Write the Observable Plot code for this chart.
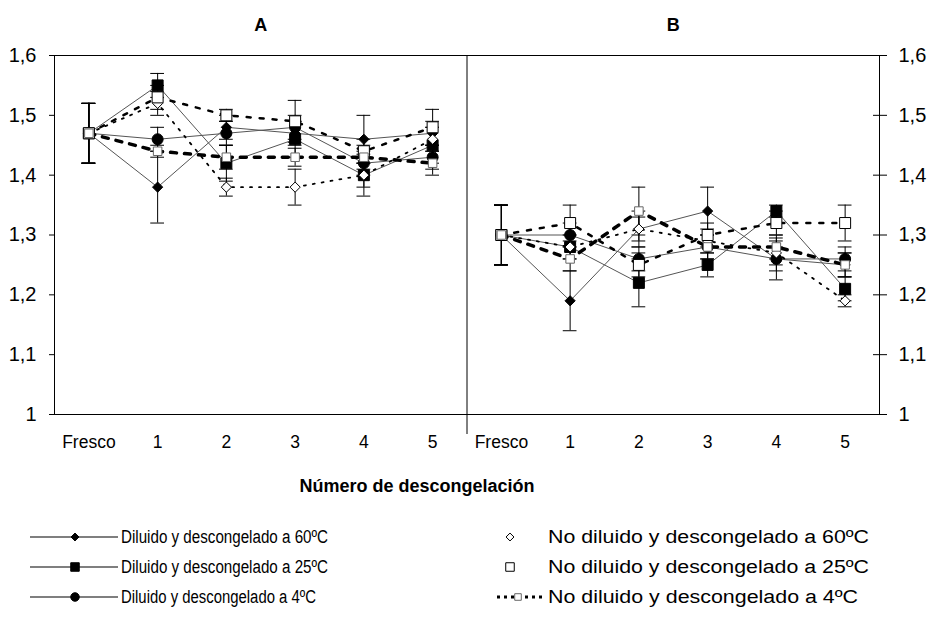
<!DOCTYPE html>
<html><head><meta charset="utf-8">
<script src="https://cdn.jsdelivr.net/npm/d3@7"></script>
<script src="https://cdn.jsdelivr.net/npm/@observablehq/plot@0.6"></script>
<style>
body{margin:0;background:#fff;font-family:"Liberation Sans",Arial,sans-serif;}
#legend text{font-family:"Liberation Sans",Arial,sans-serif;}
</style>
</head><body><div id="chart"></div><div id="legend"></div>
<script>
// ---- data ----
const panels = ["A", "B"];
const xLabels = ["Fresco", "1", "2", "3", "4", "5"];
const yTicks = [1, 1.1, 1.2, 1.3, 1.4, 1.5, 1.6];
const seriesKeys = ["D60", "D25", "D4", "ND60", "ND25", "ND4"];
const seriesNames = [
  "Diluido y descongelado a 60ºC",
  "Diluido y descongelado a 25ºC",
  "Diluido y descongelado a 4ºC",
  "No diluido y descongelado a 60ºC",
  "No diluido y descongelado a 25ºC",
  "No diluido y descongelado a 4ºC"
];
const xTitle = "Número de descongelación";

// Panel A values (Fresco, 1..5)
const A_D60  = [1.47, 1.38, 1.48, 1.47, 1.46, 1.47];
const A_D25  = [1.47, 1.55, 1.42, 1.46, 1.40, 1.45];
const A_D4   = [1.47, 1.46, 1.47, 1.48, 1.42, 1.43];
const A_ND60 = [1.47, 1.52, 1.38, 1.38, 1.40, 1.46];
const A_ND25 = [1.47, 1.53, 1.50, 1.49, 1.44, 1.48];
const A_ND4  = [1.47, 1.44, 1.43, 1.43, 1.43, 1.42];
// Panel A error half-widths
const A_D60_e  = [0.05, 0.06, 0.02, 0.02, 0.04, 0.02];
const A_D25_e  = [0.05, 0.02, 0.03, 0.03, 0.035, 0.03];
const A_D4_e   = [0.05, 0.02, 0.02, 0.02, 0.02, 0.02];
const A_ND60_e = [0.05, 0.02, 0.015, 0.03, 0.02, 0.02];
const A_ND25_e = [0.05, 0.02, 0.01, 0.035, 0.02, 0.03];
const A_ND4_e  = [0.05, 0.01, 0.02, 0.015, 0.02, 0.02];

// Panel B values
const B_D60  = [1.30, 1.19, 1.31, 1.34, 1.26, 1.25];
const B_D25  = [1.30, 1.28, 1.22, 1.25, 1.34, 1.21];
const B_D4   = [1.30, 1.30, 1.26, 1.28, 1.26, 1.26];
const B_ND60 = [1.30, 1.28, 1.31, 1.29, 1.27, 1.19];
const B_ND25 = [1.30, 1.32, 1.25, 1.30, 1.32, 1.32];
const B_ND4  = [1.30, 1.26, 1.34, 1.28, 1.28, 1.25];
// Panel B error half-widths
const B_D60_e  = [0.05, 0.05, 0.02, 0.04, 0.035, 0.02];
const B_D25_e  = [0.05, 0.02, 0.04, 0.02, 0.01, 0.02];
const B_D4_e   = [0.05, 0.02, 0.02, 0.02, 0.02, 0.02];
const B_ND60_e = [0.05, 0.02, 0.03, 0.02, 0.02, 0.01];
const B_ND25_e = [0.05, 0.03, 0.02, 0.02, 0.02, 0.03];
const B_ND4_e  = [0.05, 0.02, 0.04, 0.02, 0.02, 0.02];

// ---- build table ----
const valuesByPanel = {
  A: {D60: [A_D60, A_D60_e], D25: [A_D25, A_D25_e], D4: [A_D4, A_D4_e], ND60: [A_ND60, A_ND60_e], ND25: [A_ND25, A_ND25_e], ND4: [A_ND4, A_ND4_e]},
  B: {D60: [B_D60, B_D60_e], D25: [B_D25, B_D25_e], D4: [B_D4, B_D4_e], ND60: [B_ND60, B_ND60_e], ND25: [B_ND25, B_ND25_e], ND4: [B_ND4, B_ND4_e]}
};
const rows = [];
panels.forEach((p, pi) => {
  seriesKeys.forEach(s => {
    const [vals, errs] = valuesByPanel[p][s];
    vals.forEach((v, i) => rows.push({panel: p, series: s, x: pi * xLabels.length + i, y: v, e: errs[i]}));
  });
});

// ---- styles ----
const st = {
  D60:  {symbol: "diamond2", r: 4.6, fill: "black", stroke: "black", ls: "#555", lw: 1, dash: null},
  D25:  {symbol: "square",   r: 6.2, fill: "black", stroke: "black", ls: "#555", lw: 1, dash: null},
  D4:   {symbol: "circle",   r: 5.5, fill: "black", stroke: "black", ls: "#555", lw: 1, dash: null},
  ND60: {symbol: "diamond2", r: 4.6, fill: "white", stroke: "black", ls: "black", lw: 1.8, dash: "2,7"},
  ND25: {symbol: "square",   r: 6.2, fill: "white", stroke: "black", ls: "black", lw: 2.5, dash: "4,9"},
  ND4:  {symbol: "square",   r: 4.8, fill: "white", stroke: "#666", ls: "black", lw: 3.5, dash: "6,8"}
};
const fmt = d => String(d).replace(".", ",");
const N = xLabels.length;

const lineMarks = seriesKeys.map(s => Plot.line(rows.filter(d => d.series === s), {
  x: "x", y: "y", z: "panel", stroke: st[s].ls, strokeWidth: st[s].lw, strokeDasharray: st[s].dash
}));
const dotMarks = seriesKeys.map(s => Plot.dot(rows.filter(d => d.series === s), {
  x: "x", y: "y", symbol: () => st[s].symbol, r: st[s].r, fill: st[s].fill, stroke: st[s].stroke, strokeWidth: 1
}));

const chart = Plot.plot({
  width: 934,
  height: 515,
  marginTop: 55,
  marginBottom: 101,
  marginLeft: 54,
  marginRight: 55,
  style: {fontFamily: "'Liberation Sans', Arial, sans-serif", fontSize: "18px", color: "black", background: "white"},
  x: {type: "linear", domain: [-0.5, 2 * N - 0.5], axis: null},
  y: {domain: [1, 1.6], axis: null},
  marks: [
    Plot.frame({stroke: "black"}),
    Plot.ruleX([N - 0.5], {stroke: "black", insetBottom: -20}),
    // error bars
    Plot.ruleX(rows, {x: "x", y1: d => d.y - d.e, y2: d => d.y + d.e, stroke: "black", strokeWidth: 1}),
    Plot.ruleY(rows, {y: d => d.y + d.e, x1: d => d.x - 0.1, x2: d => d.x + 0.1, stroke: "black", strokeWidth: 1}),
    Plot.ruleY(rows, {y: d => d.y - d.e, x1: d => d.x - 0.1, x2: d => d.x + 0.1, stroke: "black", strokeWidth: 1}),
    ...lineMarks,
    ...dotMarks,
    Plot.axisY({anchor: "left", ticks: yTicks, tickFormat: fmt, tickSize: 5, tickPadding: 13, label: null, fontSize: 20}),
    Plot.axisY({anchor: "right", ticks: yTicks, tickFormat: fmt, tickSize: 14, dx: -7, tickPadding: 12, label: null, fontSize: 20}),
    Plot.axisX({ticks: d3.range(2 * N), tickFormat: i => xLabels[i % N], tickSize: 0, tickPadding: 21, label: null, fontSize: 17.5}),
    Plot.text(panels, {x: (d, i) => i * N + (N - 1) / 2, text: d => d, frameAnchor: "top", dy: -37, fontWeight: "bold", fontSize: 18}),
    Plot.text([xTitle], {text: d => d, frameAnchor: "bottom", dx: -50, dy: 77, fontWeight: "bold", fontSize: 18})
  ]
});
document.getElementById("chart").appendChild(chart);

// ---- legend ----
const svg = d3.select("#legend").append("svg").attr("width", 934).attr("height", 106);
const symMap = {diamond2: d3.symbolDiamond2, square: d3.symbolSquare, circle: d3.symbolCircle};
const legendItems = seriesKeys.map((s, i) => ({s, name: seriesNames[i], col: i < 3 ? 0 : 1, row: i % 3}));
const leftWidths = [207, 207, 195];
const rightWidths = [321, 321, 310];
legendItems.forEach(it => {
  const y = 22 + it.row * 30;
  const g = svg.append("g");
  const style = st[it.s];
  let mx;
  if (it.col === 0) {
    g.append("line").attr("x1", 30).attr("x2", 118).attr("y1", y).attr("y2", y).attr("stroke", "black").attr("stroke-width", 1.2);
    mx = 75;
  } else if (it.s === "ND4") {
    g.append("line").attr("x1", 497).attr("x2", 545).attr("y1", y).attr("y2", y).attr("stroke", "black").attr("stroke-width", 3).attr("stroke-dasharray", "3,4");
    mx = 518;
  } else {
    mx = 510;
  }
  const size = Math.PI * style.r * style.r * 0.6;
  g.append("path").attr("d", d3.symbol(symMap[style.symbol], size)()).attr("transform", `translate(${mx},${y})`)
    .attr("fill", style.fill).attr("stroke", style.stroke).attr("stroke-width", 1);
  g.append("text").attr("x", it.col === 0 ? 121 : 548).attr("y", y).attr("dy", "0.35em").attr("font-size", 18)
    .attr("textLength", it.col === 0 ? leftWidths[it.row] : rightWidths[it.row])
    .attr("lengthAdjust", "spacingAndGlyphs")
    .text(it.name);
});
</script>
</body></html>
